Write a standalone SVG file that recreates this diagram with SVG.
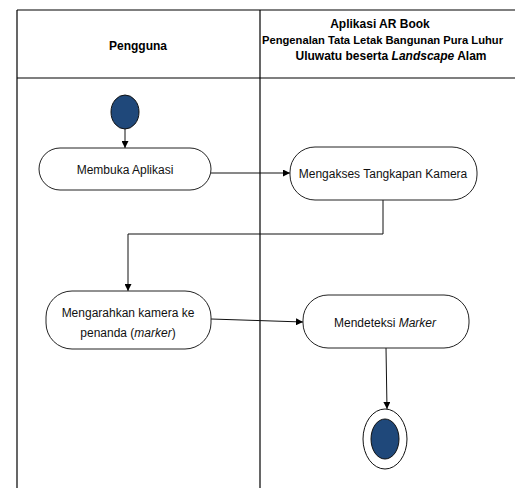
<svg xmlns="http://www.w3.org/2000/svg" width="515" height="488" viewBox="0 0 515 488">
<style>
.lane{stroke:#000;stroke-width:1.2;fill:none}
.hd{font-family:"Liberation Sans",Arial,sans-serif;font-size:12px;font-weight:bold;fill:#000}
.act{fill:#fff;stroke:#222;stroke-width:1}
.tx{font-family:"Liberation Sans",Arial,sans-serif;font-size:12px;fill:#111;text-anchor:middle}
.con{stroke:#111;stroke-width:1;fill:none;marker-end:url(#ah)}
.dot{fill:#1f487a;stroke:#111;stroke-width:1}
</style>
<defs>
<marker id="ah" viewBox="0 0 10 10" refX="10" refY="5" markerWidth="7" markerHeight="7" markerUnits="userSpaceOnUse" orient="auto">
<path d="M0,0 L10,5 L0,10 z" fill="#000"/>
</marker>
</defs>
<rect width="515" height="488" fill="#fff"/>
<g id="swimlanes">
<line class="lane" x1="17" y1="10" x2="515" y2="10"/>
<line class="lane" x1="17" y1="78" x2="515" y2="78"/>
<line class="lane" x1="17" y1="10" x2="17" y2="488"/>
<line class="lane" x1="260" y1="10" x2="260" y2="488"/>
<text class="hd" x="138" y="50" text-anchor="middle">Pengguna</text>
<text class="hd" x="380" y="28" text-anchor="middle">Aplikasi AR Book</text>
<text class="hd" x="262" y="43.5" style="font-size:11.2px">Pengenalan Tata Letak Bangunan Pura Luhur</text>
<text class="hd" x="391" y="59.5" text-anchor="middle">Uluwatu beserta <tspan font-style="italic">Landscape</tspan> Alam</text>
</g>
<g id="connectors">
<line class="con" x1="125" y1="129" x2="125" y2="148"/>
<line class="con" x1="211" y1="173" x2="290" y2="173"/>
<polyline class="con" points="383,200 383,234 128,234 128,291"/>
<line class="con" x1="211" y1="319" x2="303" y2="322"/>
<line class="con" x1="386" y1="348" x2="387" y2="409"/>
</g>
<g id="start">
<ellipse class="dot" cx="125" cy="112" rx="14" ry="17"/>
</g>
<g id="membuka-aplikasi">
<rect class="act" x="39" y="148" width="172" height="42" rx="21" ry="21"/>
<text class="tx" x="125" y="173.5">Membuka Aplikasi</text>
</g>
<g id="mengakses-kamera">
<rect class="act" x="290" y="147" width="187" height="53" rx="25" ry="25"/>
<text class="tx" x="383" y="178">Mengakses Tangkapan Kamera</text>
</g>
<g id="mengarahkan-kamera">
<rect class="act" x="46" y="291" width="165" height="58" rx="26" ry="26"/>
<text class="tx" x="128" y="316.5">Mengarahkan kamera ke</text>
<text class="tx" x="128" y="336.5">penanda (<tspan font-style="italic">marker</tspan>)</text>
</g>
<g id="mendeteksi-marker">
<rect class="act" x="303" y="295" width="166" height="53" rx="25" ry="25"/>
<text class="tx" x="385" y="327">Mendeteksi <tspan font-style="italic">Marker</tspan></text>
</g>
<g id="end">
<ellipse cx="385" cy="439" rx="22" ry="30" fill="#fff" stroke="#111" stroke-width="1"/>
<ellipse class="dot" cx="385" cy="439" rx="14" ry="20"/>
</g>
</svg>
